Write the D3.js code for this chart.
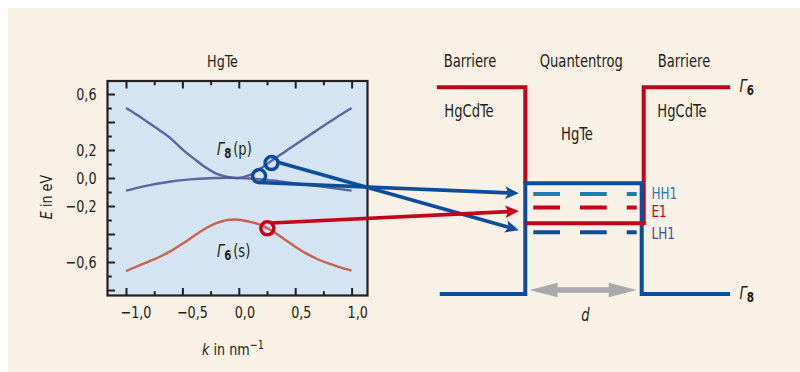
<!DOCTYPE html>
<html>
<head>
<meta charset="utf-8">
<script src="https://cdn.jsdelivr.net/npm/d3@7"></script>
<style>
  html, body { margin: 0; padding: 0; background: #ffffff; }
  svg { display: block; }
  text { font-family: "Liberation Sans Narrow", "Arial Narrow", "DejaVu Sans Condensed", sans-serif; font-stretch: condensed; fill: #231f20; }
</style>
</head>
<body>
<svg id="chart" width="800" height="372"></svg>
<script>
// ---- band structure of bulk HgTe (E in eV vs k in nm^-1) ----
const kGrid = [-1.0, -0.9, -0.8, -0.7, -0.6, -0.5, -0.4, -0.3, -0.2, -0.1, 0.0,
               0.1, 0.2, 0.3, 0.4, 0.5, 0.6, 0.7, 0.8, 0.9, 1.0];
const bandG8Upper = [0.50, 0.45, 0.395, 0.34, 0.28, 0.205, 0.14, 0.078, 0.032, 0.008, 0.0,
                     0.022, 0.072, 0.128, 0.183, 0.238, 0.292, 0.345, 0.398, 0.45, 0.50];
const bandG8Lower = [-0.09, -0.07, -0.052, -0.037, -0.025, -0.015, -0.008, -0.003, 0.0, 0.002, 0.0,
                     -0.003, -0.01, -0.018, -0.028, -0.038, -0.048, -0.058, -0.068, -0.079, -0.09];
const bandG6 = [-0.665, -0.63, -0.597, -0.562, -0.52, -0.47, -0.415, -0.362, -0.322, -0.3, -0.298,
                -0.313, -0.336, -0.38, -0.435, -0.49, -0.54, -0.58, -0.612, -0.638, -0.662];

const xTickLabels = [-1.0, -0.5, 0.0, 0.5, 1.0];
const xMinorTicks = [-0.75, -0.25, 0.25, 0.75];
const yMajorTicks = [-0.8, -0.6, -0.4, -0.2, 0.0, 0.2, 0.4, 0.6];
const yTickLabels = [0.6, 0.2, 0.0, -0.2, -0.6];
const yMinorTicks = [-0.7, -0.5, -0.3, -0.1, 0.1, 0.3, 0.5];

// marked states on the bands (k, E)
const markerK = [0.29, 0.18, 0.253];
const markerE = [0.107, 0.014, -0.359];
const markerBand = ["G8", "G8", "G6"];

// ---- quantum well schematic (relative energies, Γ8 barrier = 0, Γ6 barrier = 1) ----
const barrierG6 = 1.0, barrierG8 = 0.0;
const wellG8 = 0.536, wellG6 = 0.342;
const subbandNames = ["HH1", "E1", "LH1"];
const subbandLevels = [0.484, 0.419, 0.2985];
// arrow targets (relative energy) for the three marked states
const arrowTargets = [0.309, 0.487, 0.401];

const C = {
  page: "#f9f0e6", plotBg: "#d5e4f2", frame: "#231f20",
  bandBlue: "#4d579c", bandRed: "#c9533f",
  blue: "#0b4c9b", red: "#c4001d", lightBlue: "#1c7cbc", lhText: "#3f4c9c", gray: "#a7a9ac"
};
const SQ = 0.86; // horizontal squeeze for a condensed text look

const svg = d3.select("#chart");
svg.append("rect").attr("x", 8).attr("y", 8).attr("width", 792).attr("height", 364).attr("fill", C.page);

const defs = svg.append("defs");
defs.append("filter").attr("id", "soft").append("feGaussianBlur").attr("stdDeviation", 0.55);

// narrow a text element around its anchor point
function squeeze(sel) {
  sel.each(function () {
    const t = d3.select(this);
    const x0 = +t.attr("x") || 0, y0 = +t.attr("y") || 0;
    const prev = t.attr("transform") || "";
    t.attr("transform", `${prev} translate(${x0},${y0}) scale(${SQ},1) translate(${-x0},${-y0})`);
  });
}

// ---------------- band plot ----------------
const P = { left: 107.5, right: 367.5, top: 81, bottom: 295.5 };
const x = d3.scaleLinear().domain([-1.164, 1.141]).range([P.left, P.right]);
const y = d3.scaleLinear().domain([0.693, -0.839]).range([P.top, P.bottom]);

svg.append("rect").attr("x", P.left).attr("y", P.top)
  .attr("width", P.right - P.left).attr("height", P.bottom - P.top).attr("fill", C.plotBg);

const fmt = v => d3.format(".1f")(v).replace(".", ",").replace("-", "\u2212");

// ticks (inward)
function styleAxis(g) {
  g.select(".domain").remove();
  g.selectAll(".tick line").attr("stroke", C.frame).attr("stroke-width", 2);
  g.selectAll("text").attr("font-size", 16.5).style("font-family", null).attr("fill", C.frame);
}
const yl = svg.append("g").attr("transform", `translate(${P.left},0)`)
  .call(d3.axisLeft(y).tickValues(yMajorTicks).tickSize(-7.5).tickPadding(11)
    .tickFormat(v => yTickLabels.some(t => Math.abs(t - v) < 1e-9) ? fmt(v) : ""))
  .call(styleAxis);
squeeze(yl.selectAll("text"));
svg.append("g").attr("transform", `translate(${P.left},0)`)
  .call(d3.axisLeft(y).tickValues(yMinorTicks).tickSize(-4.3).tickFormat(""))
  .call(styleAxis);
const xb = svg.append("g").attr("transform", `translate(0,${P.bottom})`)
  .call(d3.axisBottom(x).tickValues(xTickLabels).tickSize(-7.5).tickPadding(11).tickFormat(fmt))
  .call(styleAxis);
xb.selectAll("text").attr("dx", d => d < 0 ? 11 : 6.5);
squeeze(xb.selectAll("text"));
svg.append("g").attr("transform", `translate(0,${P.bottom})`)
  .call(d3.axisBottom(x).tickValues(xMinorTicks).tickSize(-4.3).tickFormat(""))
  .call(styleAxis);
svg.append("g").attr("transform", `translate(0,${P.top})`)
  .call(d3.axisTop(x).tickValues(xTickLabels).tickSize(-7.5).tickFormat(""))
  .call(styleAxis);
svg.append("g").attr("transform", `translate(0,${P.top})`)
  .call(d3.axisTop(x).tickValues(xMinorTicks).tickSize(-4.3).tickFormat(""))
  .call(styleAxis);

// bands
const line = d3.line().x(d => x(d[0])).y(d => y(d[1])).curve(d3.curveCatmullRom.alpha(0.5));
const bands = [
  { values: bandG8Upper, color: C.bandBlue },
  { values: bandG8Lower, color: C.bandBlue },
  { values: bandG6, color: C.bandRed }
];
svg.append("g").attr("filter", "url(#soft)").selectAll("path").data(bands).join("path")
  .attr("d", b => line(kGrid.map((k, i) => [k, b.values[i]])))
  .attr("fill", "none").attr("stroke", b => b.color).attr("stroke-width", 2.4)
  .attr("stroke-opacity", 0.9);

// frame
svg.append("rect").attr("x", P.left).attr("y", P.top)
  .attr("width", P.right - P.left).attr("height", P.bottom - P.top)
  .attr("fill", "none").attr("stroke", C.frame).attr("stroke-width", 2.2);

// titles
squeeze(svg.append("text").attr("x", 222.5).attr("y", 67).attr("text-anchor", "middle").attr("font-size", 16.5).text("HgTe"));
const yt = svg.append("text").attr("transform", "translate(52,197) rotate(-90) scale(" + SQ + ",1)")
  .attr("text-anchor", "middle").attr("font-size", 16.5);
yt.append("tspan").attr("font-style", "italic").text("E");
yt.append("tspan").text(" in eV");
const xt = svg.append("text").attr("x", 233).attr("y", 355).attr("text-anchor", "middle").attr("font-size", 16.5);
xt.append("tspan").attr("font-style", "italic").text("k");
xt.append("tspan").text(" in nm");
xt.append("tspan").attr("dy", -6).attr("font-size", 12.5).text("\u22121");
squeeze(xt);

function gammaLabel(px, py, sub, suffix, size) {
  const t = svg.append("text").attr("x", px).attr("y", py).attr("font-size", size);
  t.append("tspan").attr("font-style", "italic").text("\u0393");
  t.append("tspan").attr("dy", 3).attr("font-size", size * 0.78).attr("font-weight", "bold").text(sub);
  if (suffix) t.append("tspan").attr("dy", -3).attr("dx", 2).text(suffix);
  squeeze(t);
  return t;
}
gammaLabel(217, 155, "8", "(p)", 17);
gammaLabel(217, 257, "6", "(s)", 17);

// ---------------- quantum well schematic ----------------
const xw = d3.scaleLinear().domain([-0.5, 0.5]).range([525.3, 641.7]);
const yw = d3.scaleLinear().domain([0, 1]).range([294, 87.3]);
const wellLine = d3.line();
const W = 4;

// Γ6 (red) band edges
svg.append("path").attr("d", wellLine([[xw(-1.26), yw(barrierG6)], [xw(-0.5), yw(barrierG6)], [xw(-0.5), yw(wellG8)]]))
  .attr("fill", "none").attr("stroke", C.red).attr("stroke-width", W);
svg.append("path").attr("d", wellLine([[xw(1.26), yw(barrierG6)], [xw(0.5) + 2, yw(barrierG6)], [xw(0.5) + 2, yw(wellG6)]]))
  .attr("fill", "none").attr("stroke", C.red).attr("stroke-width", W);

// Γ8 (blue) band edges
svg.append("path").attr("d", wellLine([[xw(-1.235), yw(barrierG8)], [xw(-0.5), yw(barrierG8)], [xw(-0.5), yw(wellG8)],
                                       [xw(0.5), yw(wellG8)], [xw(0.5), yw(barrierG8)], [xw(1.26), yw(barrierG8)]]))
  .attr("fill", "none").attr("stroke", C.blue).attr("stroke-width", W).attr("stroke-linejoin", "miter");

// Γ6 edge inside the well
svg.append("line").attr("x1", xw(-0.5)).attr("x2", xw(0.5) + 4).attr("y1", yw(wellG6)).attr("y2", yw(wellG6))
  .attr("stroke", C.red).attr("stroke-width", W);

// subbands
const subColors = [C.lightBlue, C.red, C.blue];
const textColors = [C.lightBlue, C.red, C.lhText];
subbandLevels.forEach((lv, i) => {
  svg.append("line").attr("x1", xw(-0.5) + 8).attr("x2", xw(0.5) - 5)
    .attr("y1", yw(lv)).attr("y2", yw(lv))
    .attr("stroke", subColors[i]).attr("stroke-width", 4).attr("stroke-dasharray", "26.7,20");
});
const labelBaselines = [199.5, 217.5, 239.5];
subbandNames.forEach((n, i) => {
  squeeze(svg.append("text").attr("x", 651.5).attr("y", labelBaselines[i]).attr("font-size", 15.5)
    .attr("fill", textColors[i]).style("fill", textColors[i]).text(n));
});

// width arrow d
const ay = 290, aL = xw(-0.5) + 4.3, aR = xw(0.5) - 5, hl = 28, hw = 7.3, sw = 2.7;
svg.append("path").attr("fill", C.gray).attr("d",
  `M${aL},${ay} L${aL + hl},${ay - hw} L${aL + hl},${ay - sw} L${aR - hl},${ay - sw} L${aR - hl},${ay - hw} L${aR},${ay} ` +
  `L${aR - hl},${ay + hw} L${aR - hl},${ay + sw} L${aL + hl},${ay + sw} L${aL + hl},${ay + hw} Z`);

// labels
const lab = (t, px, py) => squeeze(svg.append("text").attr("x", px).attr("y", py)
  .attr("text-anchor", "middle").attr("font-size", 17).text(t));
lab("Barriere", 470, 67);
lab("Quantentrog", 581.3, 67);
lab("Barriere", 684, 67);
lab("HgCdTe", 469, 117);
lab("HgCdTe", 682, 117);
lab("HgTe", 577, 140.5);
squeeze(svg.append("text").attr("x", 585.5).attr("y", 321).attr("text-anchor", "middle").attr("font-size", 17)
  .attr("font-style", "italic").text("d"));

function edgeGamma(px, py, sub) {
  const t = svg.append("text").attr("x", px).attr("y", py).attr("font-size", 17);
  t.append("tspan").attr("font-style", "italic").text("\u0393");
  t.append("tspan").attr("dy", 3).attr("font-size", 13.5).attr("font-weight", "bold").text(sub);
  squeeze(t);
}
edgeGamma(739.5, 92.5, "6");
edgeGamma(739.5, 299, "8");

// ---------------- connectors from marked states to the subbands ----------------
const startAngles = [-8, 95, -55];   // degrees on the marker circle where the connector leaves
const r = 6.5;
markerK.forEach((k, i) => {
  const col = markerBand[i] === "G6" ? C.red : C.blue;
  const cx = x(k), cy = y(markerE[i]);
  const a = startAngles[i] * Math.PI / 180;
  const sx = cx + r * Math.cos(a), sy = cy + r * Math.sin(a);
  const tx = xw(-0.5) - 6.5, ty = yw(arrowTargets[i]);
  const dx = tx - sx, dy = ty - sy, L = Math.hypot(dx, dy);
  const ux = dx / L, uy = dy / L, nx = -uy, ny = ux;
  const head = 13.5, half = 6.2, notch = 3;
  const bx = tx - ux * head, by = ty - uy * head;
  svg.append("line").attr("x1", sx).attr("y1", sy).attr("x2", bx + ux * notch).attr("y2", by + uy * notch)
    .attr("stroke", col).attr("stroke-width", 3.6);
  svg.append("path").attr("fill", col).attr("d",
    `M${tx},${ty} L${bx + nx * half},${by + ny * half} L${bx + ux * notch},${by + uy * notch} L${bx - nx * half},${by - ny * half} Z`);
  svg.append("circle").attr("cx", cx).attr("cy", cy).attr("r", r)
    .attr("fill", "none").attr("stroke", col).attr("stroke-width", 3.5);
});
</script>
</body>
</html>
